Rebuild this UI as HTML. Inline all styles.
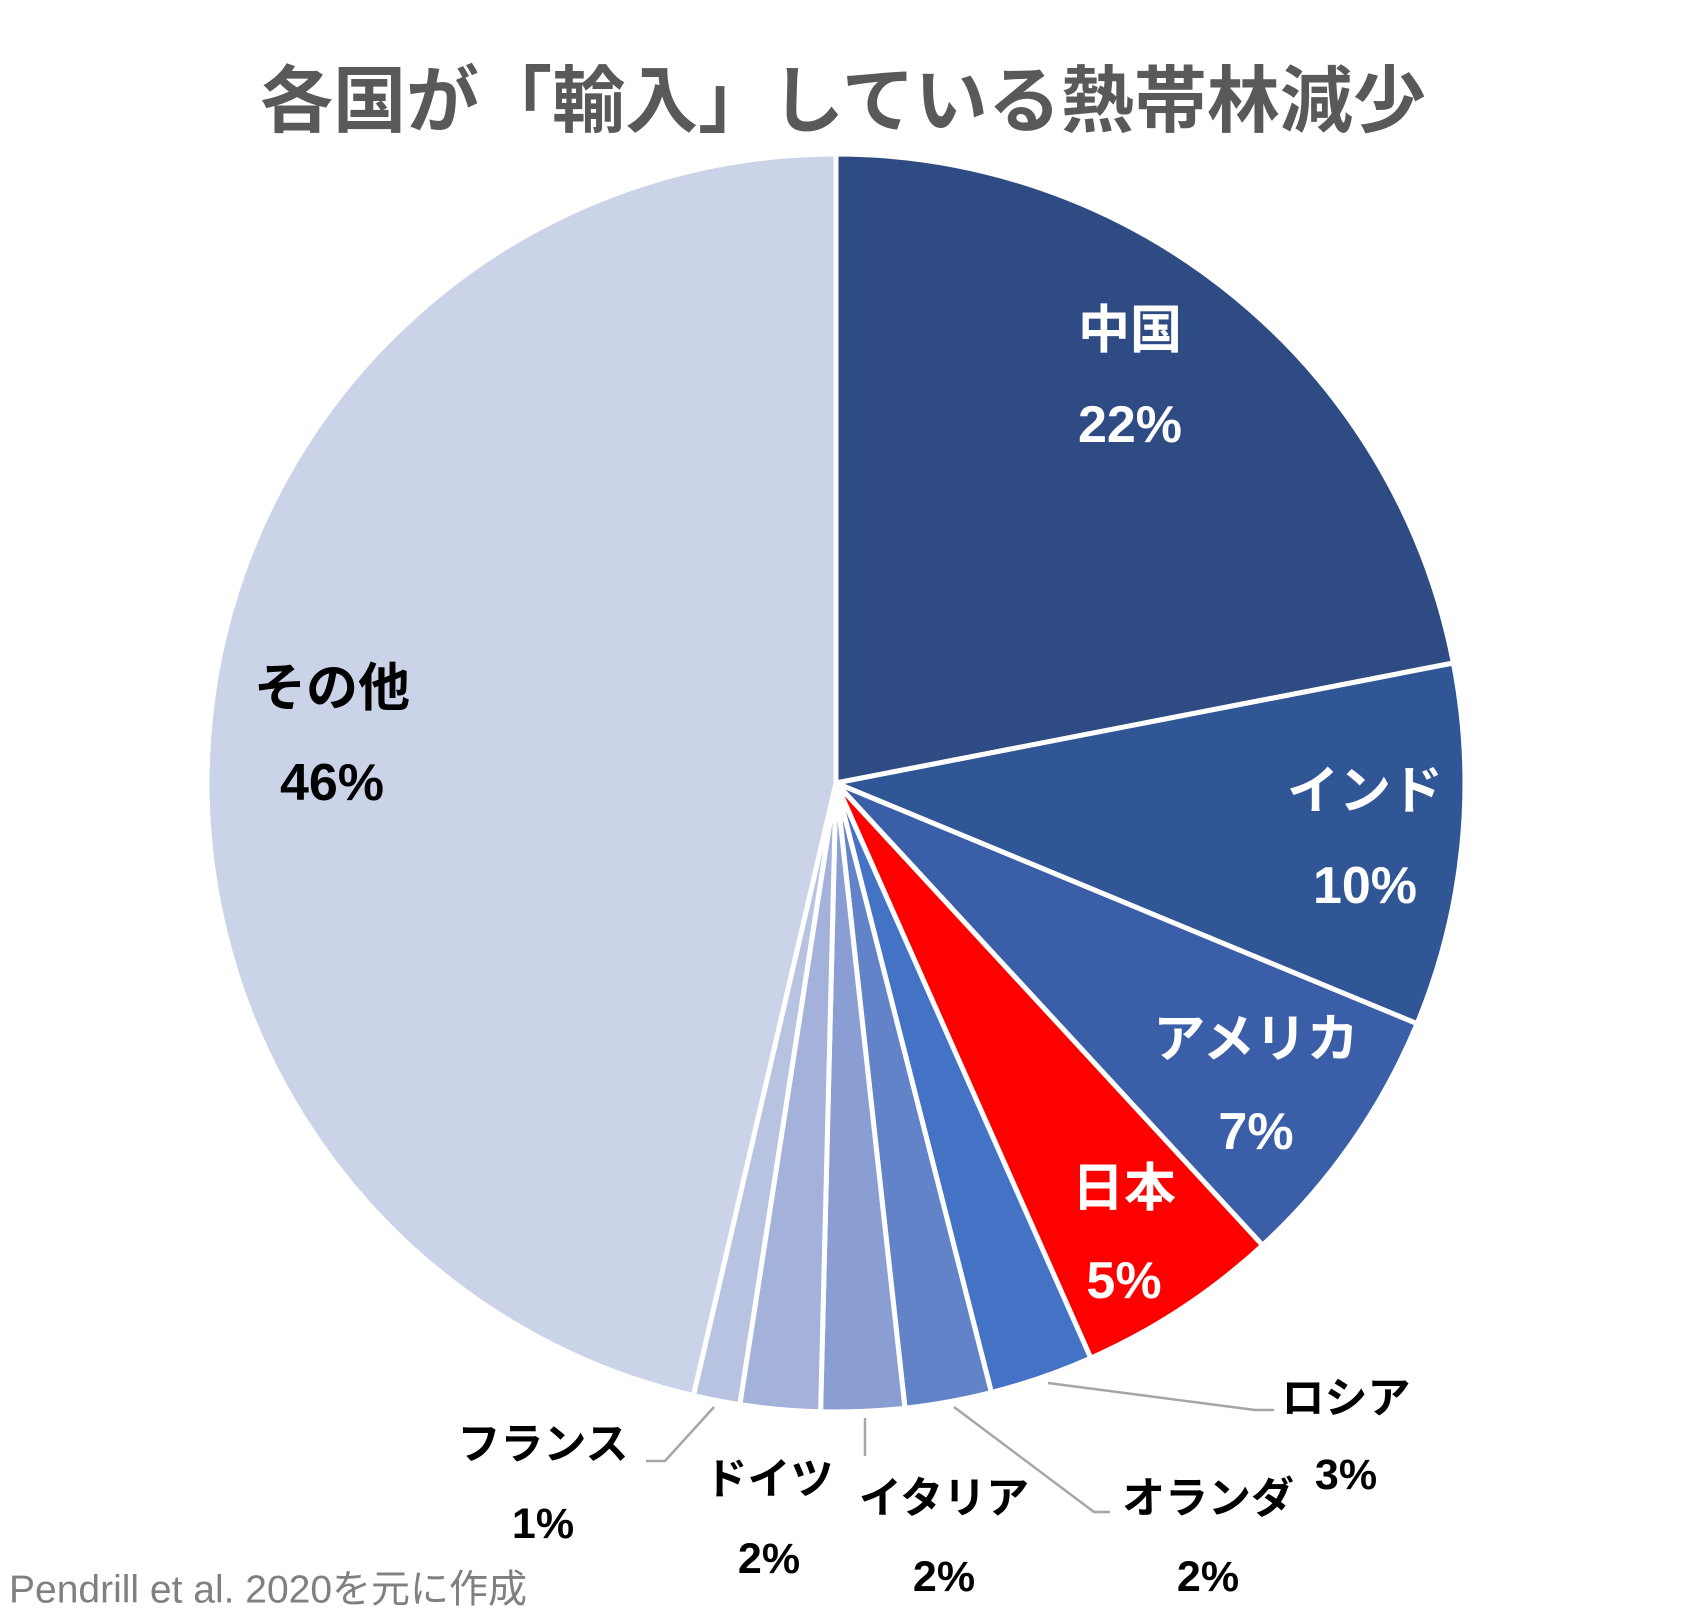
<!DOCTYPE html>
<html><head><meta charset="utf-8"><style>
html,body{margin:0;padding:0;background:#fff}
svg{display:block}
text{font-family:"Liberation Sans","Noto Sans CJK JP",sans-serif;font-weight:bold;text-anchor:middle;dominant-baseline:central}
</style></head><body>
<svg id="s" width="1684" height="1623" viewBox="0 0 1684 1623" xmlns="http://www.w3.org/2000/svg">
<text x="843" y="95" font-size="73" fill="#595959" style="font-family:'Noto Sans CJK JP',sans-serif">各国が「輸入」している熱帯林減少</text>
<g id="pie" stroke="#fff" stroke-width="5" stroke-linejoin="round"></g>
<g fill="none" stroke="#a6a6a6" stroke-width="2.5">
<polyline points="1048,1383 1255,1410 1274,1410"/>
<polyline points="954,1407 1094,1512 1110,1512"/>
<polyline points="865,1418 865,1456"/>
<polyline points="714,1407 665,1461 646,1461"/>
</g>
<g fill="#fff" font-size="52" style="font-family:'Noto Sans CJK JP',sans-serif">
<text x="1130" y="331">中国</text><text x="1130" y="425">22%</text>
<text x="1365" y="792">インド</text><text x="1365" y="886">10%</text>
<text x="1256" y="1040">アメリカ</text><text x="1256" y="1132">7%</text>
<text x="1124" y="1189">日本</text><text x="1124" y="1281">5%</text>
</g>
<g fill="#000" font-size="52" style="font-family:'Noto Sans CJK JP',sans-serif">
<text x="332" y="689">その他</text><text x="332" y="783">46%</text>
</g>
<g fill="#000" font-size="43" style="font-family:'Noto Sans CJK JP',sans-serif">
<text x="1346" y="1399">ロシア</text><text x="1346" y="1475">3%</text>
<text x="543" y="1445">フランス</text><text x="543" y="1524">1%</text>
<text x="769" y="1480">ドイツ</text><text x="769" y="1559">2%</text>
<text x="944" y="1499">イタリア</text><text x="944" y="1577">2%</text>
<text x="1208" y="1499">オランダ</text><text x="1208" y="1577">2%</text>
</g>
<text x="9" y="1590" font-size="39" fill="#808080" style="text-anchor:start;font-weight:normal;font-family:'Liberation Sans','Noto Sans CJK JP',sans-serif">Pendrill et al. 2020を元に作成</text>
</svg>
<script>
var cx=836,cy=783,r=629;
var b=[0,79,112.5,137.3,156.1,165.7,173.7,181.4,188.8,193.1,360];
var c=["#2E4C83","#305696","#3A5FA8","#FF0000","#4472C4","#6383C8","#8A9ED3","#A4B2DB","#B8C3E2","#CBD3E8"];
var g=document.getElementById("pie"),h="";
function p(a){a=a*Math.PI/180;return (cx+r*Math.sin(a)).toFixed(1)+","+(cy-r*Math.cos(a)).toFixed(1);}
for(var i=0;i<10;i++){var la=(b[i+1]-b[i])>180?1:0;
h+='<path fill="'+c[i]+'" d="M'+cx+','+cy+' L'+p(b[i])+' A'+r+','+r+' 0 '+la+' 1 '+p(b[i+1])+' Z"/>';}
g.innerHTML=h;
</script>
</body></html>
